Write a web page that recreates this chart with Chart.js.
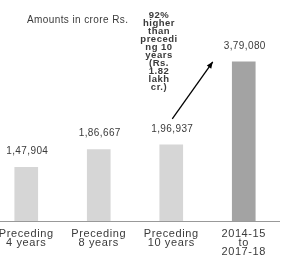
<!DOCTYPE html>
<html>
<head>
<meta charset="utf-8">
<script src="https://cdn.jsdelivr.net/npm/chart.js@4"></script>
<style>
  html,body{margin:0;padding:0;background:#fff;overflow:hidden;}
  #wrap{position:relative;width:290px;height:273px;margin-left:-10px;}
</style>
</head>
<body>
<div id="wrap"><canvas id="c"></canvas></div>
<script>
const categories=[['Preceding','4 years'],['Preceding','8 years'],['Preceding','10 years'],['2014-15','to','2017-18']];
const amounts=[147904,186667,196937,379080];
const amountLabels=['1,47,904','1,86,667','1,96,937','3,79,080'];
const unitNote='Amounts in crore Rs.';
const growthNote=['92%','higher','than','precedi','ng 10','years','(Rs.','1.82','lakh','cr.)'];
const barColors=['#d6d6d6','#d6d6d6','#d6d6d6','#a3a3a3'];

// value labels, notes and the arrow
const extrasPlugin={
  id:'extras',
  beforeDraw(chart){
    // slightly wider tick text, like the original
    chart.ctx.letterSpacing='0.6px';
  },
  afterDatasetsDraw(chart){
    const ctx=chart.ctx;
    const bars=chart.getDatasetMeta(0).data;
    ctx.save();
    ctx.fillStyle='#3a3a3a';
    ctx.letterSpacing='0.4px';
    ctx.font='10px "Liberation Sans", Arial, sans-serif';
    ctx.textAlign='center';
    ctx.textBaseline='middle';
    bars.forEach((b,i)=>ctx.fillText(amountLabels[i],b.x+1,b.y-16));

    ctx.textAlign='left';
    ctx.fillText(unitNote,37,20);

    ctx.font='bold 9.5px "Liberation Sans", Arial, sans-serif';
    ctx.letterSpacing='0.5px';
    ctx.textAlign='center';
    growthNote.forEach((t,i)=>ctx.fillText(t,169,15+i*8));

    // arrow from 10-year bar to latest bar
    const x1=bars[2].x+1, y1=bars[2].y-26;
    const x2=bars[3].x-31, y2=bars[3].y;
    ctx.strokeStyle='#000';
    ctx.fillStyle='#000';
    ctx.lineWidth=1.3;
    ctx.beginPath();
    ctx.moveTo(x1,y1);
    ctx.lineTo(x2,y2);
    ctx.stroke();
    const ang=Math.atan2(y2-y1,x2-x1);
    ctx.beginPath();
    ctx.moveTo(x2,y2);
    ctx.lineTo(x2-7*Math.cos(ang-0.4),y2-7*Math.sin(ang-0.4));
    ctx.lineTo(x2-7*Math.cos(ang+0.4),y2-7*Math.sin(ang+0.4));
    ctx.closePath();
    ctx.fill();
    ctx.restore();
  }
};

new Chart(document.getElementById('c'),{
  type:'bar',
  data:{
    labels:categories,
    datasets:[{data:amounts,backgroundColor:barColors,barThickness:23,borderWidth:0}]
  },
  options:{
    responsive:true,
    maintainAspectRatio:false,
    animation:false,
    layout:{padding:{top:30,left:0,right:0,bottom:0}},
    plugins:{legend:{display:false},tooltip:{enabled:false},title:{display:false}},
    scales:{
      x:{
        grid:{display:false,drawTicks:false},
        border:{display:true,color:'#999',width:1},
        ticks:{
          color:'#3a3a3a',
          padding:8,
          maxRotation:0,
          autoSkip:false,
          font:{family:'"Liberation Sans", Arial, sans-serif',size:11,lineHeight:0.85}
        },
        afterFit(s){ s.height=52; }
      },
      y:{display:false,min:30000,max:449000}
    }
  },
  plugins:[extrasPlugin]
});
</script>
</body>
</html>
